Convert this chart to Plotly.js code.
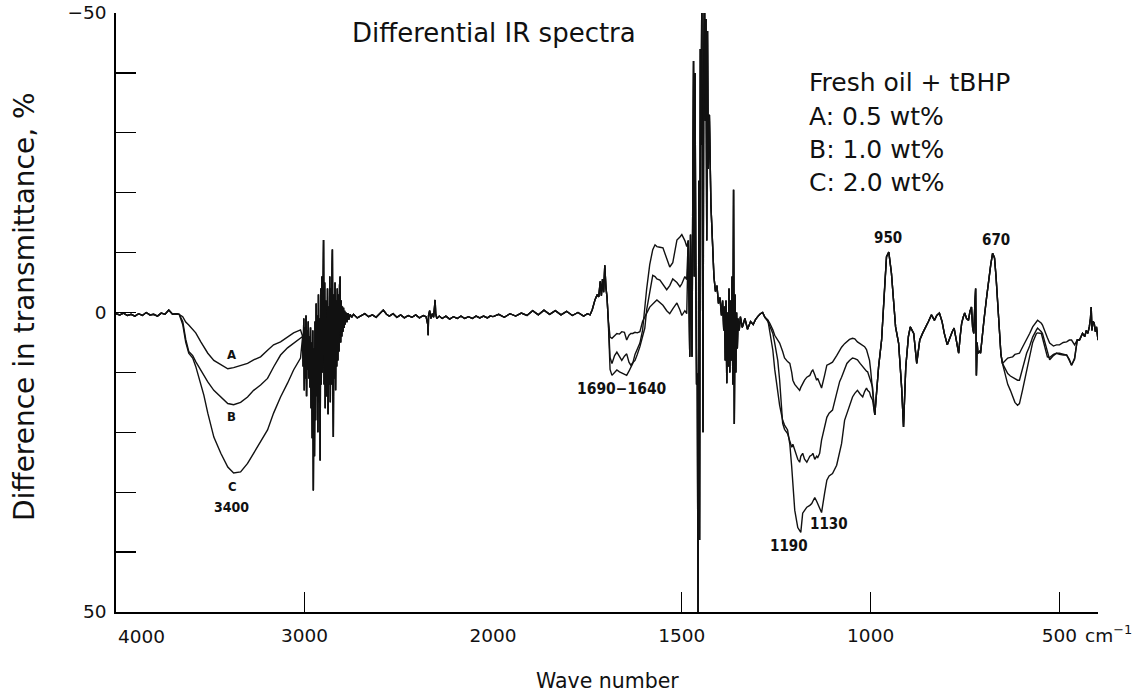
<!DOCTYPE html>
<html>
<head>
<meta charset="utf-8">
<script src="https://cdn.plot.ly/plotly-3.0.1.min.js"></script>
<style>html,body{margin:0;padding:0;background:#fff;}#chart{width:1141px;height:698px;}</style>
</head>
<body>
<div id="chart"></div>
<script>
// ---------- DATA (wave number, cm-1  /  difference in transmittance, %) ----------
// shared baseline 4000-3665
const wnStart = [4000,3980,3960,3940,3920,3900,3880,3860,3840,3820,3800,3780,3760,3740,3720,3700,3680,3665];
const tStart  = [0.2,0.4,0.1,0.5,0.3,0.6,0.2,0.5,0.0,0.4,0.3,0.6,0.1,0.3,-0.4,0.3,0.2,0.3];

// O-H band (3400)
const wnOH = [3646,3630,3614,3593,3577,3550,3534,3513,3481,3444,3407,3376,3339,3302,3270,3233,3196,3164,3127,3090,3058,3021];
const tOH_A = [0.7,1.6,2.1,2.9,3.4,4.9,5.7,6.8,8.0,8.7,9.4,9.2,8.8,8.5,7.9,7.4,6.3,5.4,4.9,4.1,3.4,2.9];
const tOH_B = [1.5,4.5,6.5,7.2,8.2,9.6,10.6,11.6,13.0,14.1,15.2,15.4,15.0,14.1,13.0,12.1,11.0,9.1,7.1,5.9,5.1,4.3];
const tOH_C = [2.0,5.0,6.8,7.6,9.0,12.0,13.8,16.8,20.8,23.5,25.8,26.8,26.6,25.2,23.5,21.6,19.6,16.8,14.1,11.8,9.6,7.6];

// shared C-H stretching noise
const wnCH = [3010,3007,3004,3001,2998,2995,2992,2989,2986,2983,2980,2977,2974,2971,2968,2965,2962,2959,2956,2953,2950,2947,2944,2941,2938,2935,2932,2929,2926,2923,2920,2917,2914,2911,2908,2905,2902,2899,2896,2893,2890,2887,2884,2881,2878,2875,2872,2869,2866,2863,2860,2857,2854,2852,2849,2847,2844,2841,2838,2835,2832,2829,2826,2823,2820,2817,2814,2811,2808,2805,2802,2799,2796,2793,2790,2787,2784,2780,2775,2770,2765,2758,2750];
const tCH  = [4.0,9.0,1.0,13.0,2.5,11.0,0.5,14.0,3.0,9.5,1.5,11.0,4.0,12.5,2.5,16.0,5.0,21.0,3.0,29.7,6.0,24.0,1.5,18.0,-1.5,14.0,0.5,20.0,-3.0,15.0,1.0,24.7,-4.0,12.0,-6.0,10.0,-8.0,-12.1,12.0,-5.0,16.0,-2.0,11.0,14.0,-4.0,17.0,-1.0,12.0,-6.0,15.0,-4.0,12.0,-7.0,-10.5,14.0,20.8,-3.0,11.0,-5.0,13.0,-2.0,9.0,-4.0,8.0,-3.0,6.5,-4.5,-6.0,5.0,-2.0,4.0,-1.0,3.2,-0.8,2.6,-0.3,2.0,0.0,1.6,0.1,1.2,0.3,0.8];

// shared baseline 2740-1695
const wnMid = [2740,2720,2700,2680,2660,2640,2620,2600,2582,2565,2550,2530,2510,2490,2470,2450,2430,2410,2390,2370,2355,2346,2344,2342,2336,2330,2322,2315,2310,2307,2304,2298,2285,2270,2250,2230,2210,2190,2170,2150,2130,2110,2090,2070,2050,2030,2015,2000,1985,1970,1955,1940,1925,1910,1895,1880,1865,1850,1835,1820,1805,1790,1775,1760,1750,1743,1737,1730,1724,1720,1716,1713,1710,1707,1704,1701,1698,1695];
const tMid  = [0.3,0.9,0.6,0.2,0.7,0.4,0.8,0.1,-0.4,0.3,0.6,0.2,0.8,0.4,0.9,0.5,0.8,0.4,0.9,0.5,0.7,2.0,3.8,0.5,-0.3,1.0,0.2,0.8,-0.5,-2.1,0.2,1.0,0.6,1.0,0.6,1.1,0.7,1.0,0.6,1.0,0.7,1.0,0.6,0.9,0.6,0.9,0.6,0.7,0.3,0.8,0.2,0.6,0.1,0.5,-0.3,0.4,-0.4,0.3,-0.3,0.4,-0.2,0.5,0.0,0.6,0.2,0.4,-0.5,-2.1,-3.0,-2.6,-5.2,-2.8,-5.6,-3.4,-7.9,-4.2,-2.5,1.0];

// C=O band (1690-1640) and 1550 region
const wnCO = [1690,1685,1678,1672,1665,1659,1652,1646,1640,1635,1630,1624,1618,1611,1604,1598,1593,1585,1577,1571,1566,1558,1550,1540,1532,1524,1513,1505,1500,1492,1487];
const tCO_A = [4.1,4.3,3.8,3.5,3.6,3.2,3.3,4.6,3.8,3.5,3.5,3.3,3.4,3.2,1.5,0.6,0.1,-0.9,-1.5,-1.8,-2.1,-1.6,-1.2,-0.3,0.2,-0.6,-1.6,-0.4,0.5,-0.3,0.2];
const tCO_B = [7.5,8.5,7.2,6.6,7.4,8.0,7.3,6.9,8.3,8.8,8.4,8.0,7.0,5.7,4.0,2.6,-0.5,-3.5,-6.2,-6.0,-5.6,-5.4,-4.6,-3.8,-4.5,-5.6,-5.0,-4.3,-4.8,-6.0,-5.5];
const tCO_C = [9.5,10.5,10.0,9.6,9.9,10.1,10.4,10.5,9.8,9.0,8.5,7.0,6.0,5.1,3.0,-1.0,-4.0,-8.0,-10.5,-11.3,-11.0,-10.9,-10.8,-9.0,-7.6,-8.3,-12.1,-12.6,-13.0,-12.0,-11.0];

// shared C-H bending region (off-scale)
const wnCHb = [1483,1481,1479,1477,1475,1473,1471,1469,1467,1465,1463,1461,1459,1457,1455,1453,1451,1449,1447,1445,1444,1442,1440,1438,1436,1434,1432,1430,1427,1423,1419,1415,1411,1407,1403,1399,1395,1392,1389,1387,1385,1383,1381,1379,1377,1375,1373,1371,1369,1367,1365,1363,1361,1359,1357,1355,1353,1351,1348,1345,1340,1333,1326,1318,1311,1305,1298,1292,1286,1280];
const tCHb  = [-12.0,-4.0,7.4,-13.0,2.0,7.4,-20.0,-42.0,-6.0,-40.0,-8.0,12.0,10.2,55.0,-22.0,38.0,-44.0,-28.0,-55.0,10.0,20.0,-42.0,-55.0,-32.0,-49.0,-12.0,-47.0,-24.0,-33.0,-18.0,-11.0,-6.0,-3.5,-4.5,-1.5,-2.5,0.5,-2.0,3.0,-1.0,8.0,-2.0,11.8,0.0,9.0,-4.0,10.0,-2.0,8.0,-6.0,12.0,-20.5,18.6,-3.0,10.0,0.0,6.0,1.0,3.0,0.7,2.5,1.0,2.8,1.5,2.0,1.2,0.6,0.2,0.0,0.8];

// 1190 / 1130 region
const wnFP = [1272,1267,1259,1254,1246,1241,1233,1228,1220,1214,1209,1206,1201,1193,1188,1185,1180,1175,1169,1161,1156,1153,1148,1143,1140,1135,1130,1122,1116,1110,1101,1090,1082,1077,1069,1063,1056,1048,1042,1035,1028,1021,1016,1011,1008,1003,1000,995];
const tFP_A = [1.3,1.8,2.9,3.8,4.6,5.1,6.5,7.6,8.2,8.5,10.0,11.3,12.0,12.6,13.0,12.5,11.8,11.3,10.8,10.5,9.8,9.6,10.4,11.3,11.0,11.8,12.6,10.5,8.8,8.6,8.3,7.2,6.3,5.8,5.2,4.9,4.5,4.3,4.4,4.9,5.2,5.5,5.7,6.2,6.8,8.0,9.6,12.5];
const tFP_B = [1.5,2.4,3.5,5.1,8.0,11.3,18.5,19.5,20.2,21.5,22.5,22.0,23.0,24.5,25.0,24.0,23.5,24.5,25.0,24.0,23.8,23.5,24.5,24.0,24.2,23.5,21.3,19.0,17.5,16.8,16.3,13.5,11.5,10.8,9.5,8.5,8.0,7.6,7.7,7.9,8.5,9.1,9.4,9.8,9.9,10.8,11.5,12.4];
const tFP_C = [1.3,3.0,6.3,9.5,13.5,15.5,18.0,18.8,19.6,22.0,25.8,29.0,33.0,35.9,36.3,36.7,33.5,33.0,32.5,32.2,31.9,31.5,30.9,31.5,32.0,32.8,33.4,30.2,28.0,27.3,26.9,25.5,23.5,21.9,18.0,16.8,15.5,14.1,13.5,13.0,13.6,14.1,13.2,12.6,13.0,13.3,14.0,14.6];

// shared 990-650 (950 and 670 bands)
const wnIR2 = [989,979,971,963,958,952,945,934,926,918,913,907,900,895,886,878,870,862,855,847,839,831,825,818,811,805,797,790,784,779,773,767,763,759,755,751,746,741,737,733,730,727,724,722,720,718,716,712,709,705,700,693,687,682,677,672,668,664,659,655,651];
const tIR2  = [17.1,9.1,4.6,-4.3,-9.3,-10.1,-6.6,2.4,5.1,12.5,19.1,9.1,4.0,2.4,3.5,8.5,4.6,3.4,2.6,1.5,0.4,1.3,0.5,0.1,1.5,3.5,5.4,4.0,3.2,2.6,4.5,6.8,4.0,1.8,0.8,0.1,1.0,1.3,-0.2,-0.9,2.5,3.5,-1.5,-4.0,10.5,5.0,6.8,6.5,6.8,4.0,1.3,-2.5,-5.9,-8.0,-9.9,-9.1,-6.0,-2.1,4.6,7.0,8.5];

// 650-460
const wnLow = [644,637,630,624,618,611,606,598,587,579,571,561,558,548,545,532,526,516,508,500,490,481,474,468,460];
const tLow_A = [8.0,7.6,7.5,7.4,7.0,6.9,6.8,5.8,4.6,3.5,2.4,1.5,1.3,1.8,2.1,4.2,5.1,5.6,5.4,5.4,5.0,4.9,4.6,4.6,5.4];
const tLow_B = [9.5,10.2,10.6,10.8,11.0,11.3,11.3,9.5,6.8,5.6,4.1,2.9,2.6,3.2,3.5,6.5,7.9,7.2,6.8,6.8,7.0,7.1,7.8,8.8,7.8];
const tLow_C = [10.5,12.0,13.0,14.1,15.0,15.5,15.2,13.0,9.8,7.4,5.0,3.5,3.4,3.5,4.2,7.4,7.5,7.0,6.8,7.0,7.1,7.1,8.0,8.8,7.6];

// shared end 455-398
const wnEnd = [453,447,439,433,429,425,421,418,416,414,411,408,405,402,398];
const tEnd  = [4.6,4.6,3.5,4.0,3.0,3.5,2.4,1.0,-0.9,3.0,1.5,1.8,3.2,2.4,4.6];

// tick labels
const xTickLeft = [3000];
const xTickRight = [2000, 1500, 1000, 500];
const yTickMajor = [-50, 0, 50];
const yTickText = ['\u221250', '0', '50'];
const yTickMinor = [-40, -30, -20, -10, 10, 20, 30, 40];
const legendLines = ['Fresh oil + tBHP', 'A: 0.5 wt%', 'B: 1.0 wt%', 'C: 2.0 wt%'];

// ---------- assemble series ----------
function series(oh, co, fp, low) {
  return {
    wn: [].concat(wnStart, wnOH, wnCH, wnMid, wnCO, wnCHb, wnFP, wnIR2, wnLow, wnEnd),
    t:  [].concat(tStart, oh, tCH, tMid, co, tCHb, fp, tIR2, low, tEnd)
  };
}
const SA = series(tOH_A, tCO_A, tFP_A, tLow_A);
const SB = series(tOH_B, tCO_B, tFP_B, tLow_B);
const SC = series(tOH_C, tCO_C, tFP_C, tLow_C);

function split(s) {
  const L = {x: [], y: []}, R = {x: [], y: []};
  s.wn.forEach((w, i) => {
    if (w >= 2000) { L.x.push(w); L.y.push(s.t[i]); }
    if (w <= 2000) { R.x.push(w); R.y.push(s.t[i]); }
  });
  return [L, R];
}

const lineStyle = {color: '#111111', width: 1.4};
const traces = [];
[SA, SB, SC].forEach(s => {
  const [L, R] = split(s);
  traces.push({x: L.x, y: L.y, xaxis: 'x', yaxis: 'y', mode: 'lines', line: lineStyle, hoverinfo: 'skip', showlegend: false});
  traces.push({x: R.x, y: R.y, xaxis: 'x2', yaxis: 'y', mode: 'lines', line: lineStyle, hoverinfo: 'skip', showlegend: false});
});

// ---------- layout ----------
const F = 'DejaVu Sans, Liberation Sans, sans-serif';
const FB = 'DejaVu Sans Condensed, Liberation Sans, sans-serif';
const split2000 = 377 / 982;
const axisCommon = {
  showline: true, linecolor: '#000', linewidth: 1.8, showgrid: false, zeroline: false,
  ticks: 'inside', ticklen: 20, tickwidth: 1.3, tickcolor: '#000',
  tickfont: {family: F, size: 18.5, color: '#111'}, ticklabelstandoff: 6
};
const lbl = (text, xref, x, y, size) => ({
  text: text, xref: xref, yref: 'y', x: x, y: y, showarrow: false,
  font: {family: FB, size: size || 15, color: '#111', weight: 'bold'}, xanchor: 'center', yanchor: 'middle'
});
const py = v => (612 - v) / 599;   // pixel row -> paper y
const px = v => (v - 116) / 982;   // pixel column -> paper x

const annotations = [
  {text: 'Differential IR spectra', xref: 'paper', yref: 'paper', x: px(350), y: py(33),
   xanchor: 'left', yanchor: 'middle', showarrow: false, font: {family: F, size: 26, color: '#111'}},
  {text: 'Difference in transmittance, %', xref: 'paper', yref: 'paper', x: px(24), y: py(307),
   textangle: -90, xanchor: 'center', yanchor: 'middle', showarrow: false, font: {family: F, size: 28, color: '#111'}},
  {text: 'Wave number', xref: 'paper', yref: 'paper', x: px(607), y: py(681),
   xanchor: 'center', yanchor: 'middle', showarrow: false, font: {family: F, size: 20.5, color: '#111'}},
  {text: '4000', xref: 'paper', yref: 'paper', x: px(141), y: py(636),
   xanchor: 'center', yanchor: 'middle', showarrow: false, font: {family: F, size: 18.5, color: '#111'}},
  {text: 'cm<sup>\u22121</sup>', xref: 'paper', yref: 'paper', x: px(1083), y: py(634),
   xanchor: 'left', yanchor: 'middle', showarrow: false, font: {family: F, size: 18.5, color: '#111'}},
  lbl('A', 'x', 3385, 7.0, 13),
  lbl('B', 'x', 3385, 17.4, 13),
  lbl('C', 'x', 3380, 29.1, 13),
  lbl('3400', 'x', 3385, 32.4, 14),
  lbl('1690\u22121640', 'x2', 1658, 12.8, 15.5),
  lbl('950', 'x2', 954, -12.4, 15),
  lbl('670', 'x2', 668, -12.1, 15),
  lbl('1190', 'x2', 1216, 39.0, 15),
  lbl('1130', 'x2', 1110, 35.3, 15)
];
const legendRows = [83, 117, 150, 183];
legendLines.forEach((t, i) => annotations.push({
  text: t, xref: 'paper', yref: 'paper', x: px(807), y: py(legendRows[i]),
  xanchor: 'left', yanchor: 'middle', showarrow: false, font: {family: F, size: 25, color: '#111'}
}));

const layout = {
  width: 1141, height: 698,
  margin: {l: 116, r: 43, t: 13, b: 86},
  paper_bgcolor: '#fff', plot_bgcolor: '#fff',
  xaxis: Object.assign({}, axisCommon, {
    domain: [0, split2000], range: [4000, 2000], anchor: 'y',
    tickmode: 'array', tickvals: xTickLeft, ticktext: xTickLeft.map(String)
  }),
  xaxis2: Object.assign({}, axisCommon, {
    domain: [split2000, 1], range: [2000, 398], anchor: 'y',
    tickmode: 'array', tickvals: xTickRight, ticktext: xTickRight.map(String)
  }),
  yaxis: Object.assign({}, axisCommon, {
    range: [50, -50], anchor: 'x',
    tickmode: 'array', tickvals: yTickMajor, ticktext: yTickText, ticklabelstandoff: 4,
    minor: {tickmode: 'array', tickvals: yTickMinor, ticks: 'inside', ticklen: 20, tickwidth: 1.3, tickcolor: '#000', showgrid: false}
  }),
  annotations: annotations
};

Plotly.newPlot('chart', traces, layout, {staticPlot: true, displayModeBar: false});
</script>
</body>
</html>
